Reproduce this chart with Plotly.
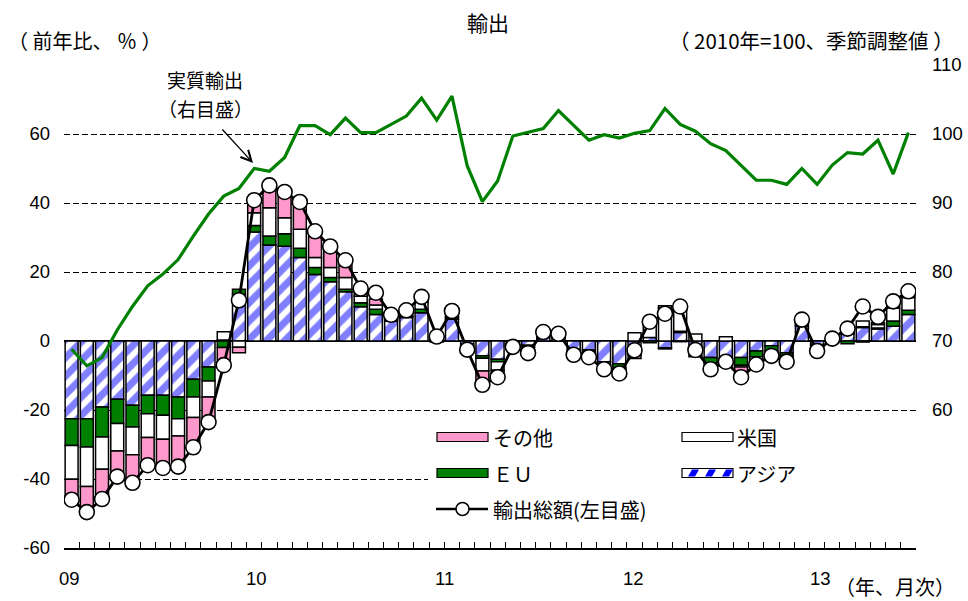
import plotly.graph_objects as go

# ---- data: Jan 2009 - Aug 2013, monthly ----
years = ["09", "10", "11", "12", "13"]
months = [f"20{y}-{m:02d}" for y in years for m in range(1, 13)][:56]

# contributions to y/y change of exports (%pt)
asia = [-22.5, -22.5, -19.1, -16.9, -18.6, -15.7, -15.7, -16.2, -11.1, -7.5, 0.3, 13.5,
        31.6, 27.8, 27.5, 24.2, 19.3, 17.2, 14.3, 9.9, 7.7, 5.8, 6.8, 8.2,
        0.8, 6.3, -0.8, -4.3, -5.3, -0.5, -1.2, 1.2, 0.8, -2.4, -2.6, -6.0,
        -6.6, -3.0, 1.0, -2.0, 2.5, -2.5, -4.8, -5.0, -4.8, -2.9, -1.4, -3.4,
        4.3, -1.0, 0.2, 2.0, 3.9, 3.5, 4.3, 7.7]
eu = [-7.8, -8.2, -8.7, -7.0, -6.3, -5.4, -5.8, -6.3, -5.1, -4.1, -1.9, 1.5,
      1.9, 2.6, 3.6, 2.7, 2.0, 1.2, 0.7, 1.2, 1.5, 0.5, 0.3, 1.0,
      0.3, 0.5, -0.3, -0.7, -0.7, -0.3, -0.6, 0.3, 0.2, -0.5, -0.7, -0.8,
      -1.2, -1.0, -0.5, -0.3, 0.3, -1.0, -1.5, -1.0, -2.2, -1.7, -1.5, -0.8,
      0.3, -0.8, -0.5, -0.8, 0.2, 0.3, 1.5, 1.2]
us = [-9.8, -11.5, -9.4, -8.0, -8.1, -6.9, -7.0, -5.0, -6.0, -4.6, 2.4, -1.8,
      3.7, 8.2, 4.6, 5.5, 2.9, 2.9, 3.4, 1.9, 1.2, 0.8, 1.2, 2.0,
      0.5, 1.0, -0.6, -3.7, -2.5, -0.5, -0.8, 0.6, 0.6, -0.7, -0.5, -0.5,
      -0.3, 2.4, 4.3, 9.6, 7.4, 2.0, -1.0, 1.2, -0.5, -1.0, -0.8, -1.0,
      1.0, -0.6, 0.8, 1.6, 1.7, 1.0, 3.8, 3.7]
other = [-5.9, -7.4, -8.6, -7.4, -8.1, -8.0, -8.3, -8.9, -8.6, -7.3, -4.0, -1.6,
         3.6, 6.5, 7.5, 7.9, 7.6, 6.1, 5.0, 2.2, 1.8, 0.5, 0.6, 1.6,
         -0.3, 0.9, -0.8, -4.0, -2.0, -0.4, -0.9, 0.5, 0.5, -0.4, -0.9, -0.9,
         -1.3, -1.1, 0.8, 0.6, -0.2, -1.1, -0.9, -1.2, -3.0, -1.2, -0.6, -0.8,
         0.6, -0.5, 0.2, 0.8, -0.3, 0.5, 1.9, 1.8]
# total exports, y/y % (left scale)
total = [-46.0, -49.6, -45.8, -39.3, -41.1, -36.0, -36.8, -36.4, -30.8, -23.5, -7.0, 11.8,
         40.8, 45.1, 43.2, 40.3, 31.8, 27.4, 23.4, 15.2, 14.0, 7.6, 8.9, 12.8,
         1.3, 8.7, -2.5, -12.7, -10.5, -1.7, -3.5, 2.6, 2.1, -4.0, -4.7, -8.2,
         -9.4, -2.7, 5.6, 7.9, 10.0, -2.6, -8.2, -6.0, -10.5, -6.8, -4.3, -6.0,
         6.2, -2.9, 0.7, 3.6, 10.0, 7.0, 11.5, 14.4]
# real exports, 2010=100, seasonally adjusted (right scale)
real = [68.8, 66.4, 67.6, 71.6, 75.0, 78.0, 79.7, 81.8, 85.2, 88.4, 91.0, 92.1,
        95.0, 94.6, 96.6, 101.2, 101.2, 99.9, 102.3, 100.2, 100.2, 101.4, 102.6, 105.2,
        102.0, 105.5, 95.4, 90.2, 93.2, 99.7, 100.2, 100.8, 103.4, 101.2, 99.1, 99.9,
        99.4, 100.1, 100.5, 103.7, 101.4, 100.4, 98.6, 97.6, 95.5, 93.3, 93.3, 92.7,
        95.0, 92.7, 95.5, 97.3, 97.1, 99.1, 94.2, 100.2]

left_ticks = [-60, -40, -20, 0, 20, 40, 60, 80]
right_ticks = [60, 70, 80, 90, 100, 110]

idx = list(range(len(months)))

# ---- page geometry (pixels) ----
W, H = 968, 601
L, R, T, B = 64, 916, 65, 548


def px(x):
    return (x - L) / (R - L)


def py(y):
    return (B - y) / (B - T)


JP = "Noto Sans CJK JP"
NUM = "Liberation Sans"
PINK = "#FF99CC"
GREEN = "#008000"
BLUE = "#0000FF"
OUTLINE = dict(color="black", width=1.5)

fig = go.Figure()

fig.add_trace(go.Bar(
    x=idx, y=asia, name="アジア",
    marker=dict(color="white", line=OUTLINE,
                pattern=dict(shape="/", fgcolor=BLUE, bgcolor="white",
                             size=13, solidity=0.55)),
))
fig.add_trace(go.Bar(x=idx, y=eu, name="ＥＵ",
                     marker=dict(color=GREEN, line=OUTLINE)))
fig.add_trace(go.Bar(x=idx, y=us, name="米国",
                     marker=dict(color="white", line=OUTLINE)))
fig.add_trace(go.Bar(x=idx, y=other, name="その他",
                     marker=dict(color=PINK, line=OUTLINE)))
fig.add_trace(go.Scatter(
    x=idx, y=total, name="輸出総額(左目盛)", mode="lines+markers",
    line=dict(color="black", width=2.8),
    marker=dict(size=15, color="white", line=dict(color="black", width=1.6)),
))
fig.add_trace(go.Scatter(
    x=idx, y=real, name="実質輸出", yaxis="y2", mode="lines",
    line=dict(color=GREEN, width=3.2),
))

fig.update_layout(
    width=W, height=H,
    margin=dict(l=L, r=W - R, t=T, b=H - B, pad=0, autoexpand=False),
    paper_bgcolor="white", plot_bgcolor="white",
    barmode="relative", bargap=0.15,
    showlegend=False,
    font=dict(family=JP, size=20, color="black"),
    xaxis=dict(
        range=[-0.5, len(idx) - 0.5], automargin=False,
        tickvals=[i - 0.5 for i in range(len(idx) + 1)],
        showticklabels=False, ticks="inside", ticklen=6, tickwidth=1.3,
        tickcolor="black", showline=True, linecolor="black", linewidth=1.5,
        showgrid=False, zeroline=False,
    ),
    yaxis=dict(
        range=[-60, 80], tickvals=left_ticks, automargin=False,
        ticktext=[str(v) if v < 80 else "" for v in left_ticks],
        tickfont=dict(family=NUM, size=18.5), ticks="", ticklabelstandoff=13,
        showgrid=True, gridcolor="black", gridwidth=1.2, griddash="6px,3px",
        zeroline=True, zerolinecolor="black", zerolinewidth=2,
        showline=False,
    ),
    yaxis2=dict(
        range=[40, 110], tickvals=right_ticks, automargin=False,
        ticktext=[str(v) for v in right_ticks],
        tickfont=dict(family=NUM, size=18.5), ticks="", ticklabelstandoff=15,
        overlaying="y", side="right", showgrid=False, zeroline=False,
        showline=False,
    ),
)

shapes = []
annotations = []

# legend panel
shapes.append(dict(type="rect", xref="paper", yref="paper", layer="above",
                   x0=px(428), x1=px(916), y0=py(528), y1=py(420),
                   fillcolor="white", line=dict(width=0)))


def swatch(x0, yc, fill):
    return dict(type="rect", xref="paper", yref="paper", layer="above",
                x0=px(x0), x1=px(x0 + 51), y0=py(yc + 4.5), y1=py(yc - 4.5),
                fillcolor=fill, line=dict(color="black", width=1.2))


def label(x, yc, text):
    return dict(x=px(x), y=py(yc), xref="paper", yref="paper", text=text,
                showarrow=False, xanchor="left", yanchor="middle",
                font=dict(family=JP, size=20))


shapes.append(swatch(437, 437, PINK))
annotations.append(label(491, 437, "その他"))
shapes.append(swatch(682, 437, "white"))
annotations.append(label(735, 437, "米国"))
shapes.append(swatch(437, 473, GREEN))
annotations.append(label(491, 473, "ＥＵ"))
shapes.append(swatch(682, 473, "white"))
for sx in (688, 705, 722):
    pts = [(sx, 476.5), (sx + 7, 476.5), (sx + 11, 469.5), (sx + 4, 469.5)]
    path = "M " + " L ".join(f"{px(a):.5f},{py(b):.5f}" for a, b in pts) + " Z"
    shapes.append(dict(type="path", xref="paper", yref="paper", layer="above",
                       path=path, fillcolor=BLUE, line=dict(width=0)))
annotations.append(label(735, 473, "アジア"))
shapes.append(dict(type="line", xref="paper", yref="paper", layer="above",
                   x0=px(436), x1=px(488), y0=py(509), y1=py(509),
                   line=dict(color="black", width=2.5)))
shapes.append(dict(type="circle", xref="paper", yref="paper", layer="above",
                   x0=px(456), x1=px(469), y0=py(515.5), y1=py(502.5),
                   fillcolor="white", line=dict(color="black", width=1.5)))
annotations.append(label(491, 509, "輸出総額(左目盛)"))

# year labels under the month ticks
year_pos = [-0.15, 12.15, 24.5, 36.9, 49.25]
for yl, xp in zip(years, year_pos):
    annotations.append(dict(x=xp, y=py(578), xref="x", yref="paper", text=yl,
                            showarrow=False, xanchor="center", yanchor="middle",
                            font=dict(family=NUM, size=18.5)))

# titles and unit notes
annotations += [
    dict(x=px(488), y=py(22), xref="paper", yref="paper", text="輸出",
         showarrow=False, xanchor="center", yanchor="middle",
         font=dict(family=JP, size=21)),
    dict(x=px(6), y=py(40), xref="paper", yref="paper",
         text="（ 前年比、 ％ ）",
         showarrow=False, xanchor="left", yanchor="middle",
         font=dict(family=JP, size=20)),
    dict(x=px(956), y=py(40), xref="paper", yref="paper",
         text="（ 2010年=100、季節調整値 ）",
         showarrow=False, xanchor="right", yanchor="middle",
         font=dict(family=JP, size=20.5)),
    dict(x=px(957), y=py(586), xref="paper", yref="paper", text="（年、月次）",
         showarrow=False, xanchor="right", yanchor="middle",
         font=dict(family=JP, size=20)),
    dict(x=px(205), y=py(80), xref="paper", yref="paper", text="実質輸出",
         showarrow=False, xanchor="center", yanchor="middle",
         font=dict(family=JP, size=19)),
    dict(x=px(205), y=py(108), xref="paper", yref="paper", text="（右目盛）",
         showarrow=False, xanchor="center", yanchor="middle",
         font=dict(family=JP, size=19)),
    dict(x=px(253), y=py(163), xref="paper", yref="paper", text="",
         showarrow=True, ax=-32, ay=-35, arrowhead=5, arrowsize=1.6,
         arrowwidth=1.3, arrowcolor="black"),
]

fig.update_layout(shapes=shapes, annotations=annotations)
fig.write_html("out.html")
